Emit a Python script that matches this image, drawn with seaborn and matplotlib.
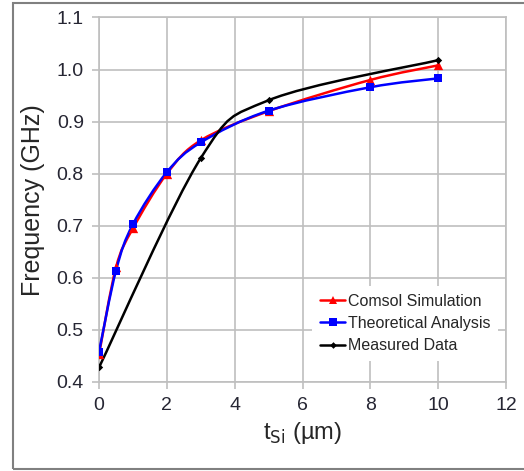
import numpy as np
import matplotlib
matplotlib.use("Agg")
import matplotlib.pyplot as plt
import seaborn as sns
from matplotlib.path import Path
from matplotlib.patches import PathPatch, Rectangle
from matplotlib.lines import Line2D

# data
t_sim = [0, 0.5, 1, 2, 3, 5, 8, 10]
f_comsol = [0.453, 0.620, 0.695, 0.800, 0.864, 0.920, 0.980, 1.008]
t_theory = [0, 0.5, 1, 2, 3, 5, 8, 10]
f_theory = [0.458, 0.614, 0.703, 0.803, 0.860, 0.921, 0.966, 0.983]
t_meas = [0, 3, 5, 10]
f_meas = [0.428, 0.830, 0.941, 1.018]

x_ticks = [0, 2, 4, 6, 8, 10, 12]
y_ticks = [0.4, 0.5, 0.6, 0.7, 0.8, 0.9, 1.0, 1.1]


def smooth_path(xs, ys):
    # Excel-style smoothed line: cubic Bezier segments through the points
    p = np.column_stack([xs, ys]).astype(float)
    n = len(p)
    verts = [p[0]]
    codes = [Path.MOVETO]
    for i in range(n - 1):
        p0 = p[i - 1] if i > 0 else p[i]
        p3 = p[i + 2] if i + 2 < n else p[i + 1]
        c1 = p[i] + (p[i + 1] - p0) / 6.0
        c2 = p[i + 1] - (p3 - p[i]) / 6.0
        verts += [c1, c2, p[i + 1]]
        codes += [Path.CURVE4] * 3
    return Path(verts, codes)


sns.set_theme(style="white")
plt.rcParams["font.family"] = ["Liberation Sans", "DejaVu Sans"]

fig = plt.figure(figsize=(5.24, 4.71), dpi=100)
ax = fig.add_axes([0.189, 0.189, 0.777, 0.774])

series = [
    (t_sim, f_comsol, "#ff0000", "^", 45, "Comsol Simulation"),
    (t_theory, f_theory, "#0000ff", "s", 40, "Theoretical Analysis"),
    (t_meas, f_meas, "#000000", "D", 14, "Measured Data"),
]
handles = []
for xs, ys, col, mk, ms, lab in series:
    ax.add_patch(PathPatch(smooth_path(xs, ys), facecolor="none",
                           edgecolor=col, lw=1.8, zorder=3))
    sns.scatterplot(x=xs, y=ys, ax=ax, color=col, marker=mk, s=ms,
                    linewidth=0, zorder=4)
    handles.append(Line2D([], [], color=col, lw=1.8, marker=mk,
                          markersize=np.sqrt(ms) * 0.9, markeredgewidth=0, label=lab))

ax.set_xlim(0, 12)
ax.set_ylim(0.4, 1.1)
ax.set_xticks(x_ticks)
ax.set_yticks(y_ticks)
ax.set_yticklabels([f"{v:.1f}" for v in y_ticks])
ax.grid(True, color="#bfbfbf", lw=1.2)
ax.set_axisbelow(True)
for s in ax.spines.values():
    s.set_color("#bfbfbf")
    s.set_linewidth(1.2)
ax.tick_params(axis="both", which="both", length=5, width=1.2, color="#bfbfbf",
               labelsize=14, labelcolor="#262633", pad=6, direction="out",
               bottom=True, left=True)
ax.set_xlabel(r"t$_{\mathrm{Si}}$ (µm)", fontsize=17, color="#262626", labelpad=4)
ax.set_ylabel("Frequency (GHz)", fontsize=18, color="#262626", labelpad=8)

leg = ax.legend(handles=handles, loc="lower right", bbox_to_anchor=(1.0, 0.035),
                frameon=True, fontsize=11.5, handlelength=1.6, handletextpad=0.15,
                borderpad=0.5, labelspacing=0.45)
leg.get_frame().set_facecolor("white")
leg.get_frame().set_edgecolor("none")
leg.get_frame().set_alpha(1)

fig.patches.append(Rectangle((0.024, 0.004), 0.985, 0.99, transform=fig.transFigure,
                             fill=False, edgecolor="#808080", lw=1.5))

fig.savefig("out.png", dpi=100)
